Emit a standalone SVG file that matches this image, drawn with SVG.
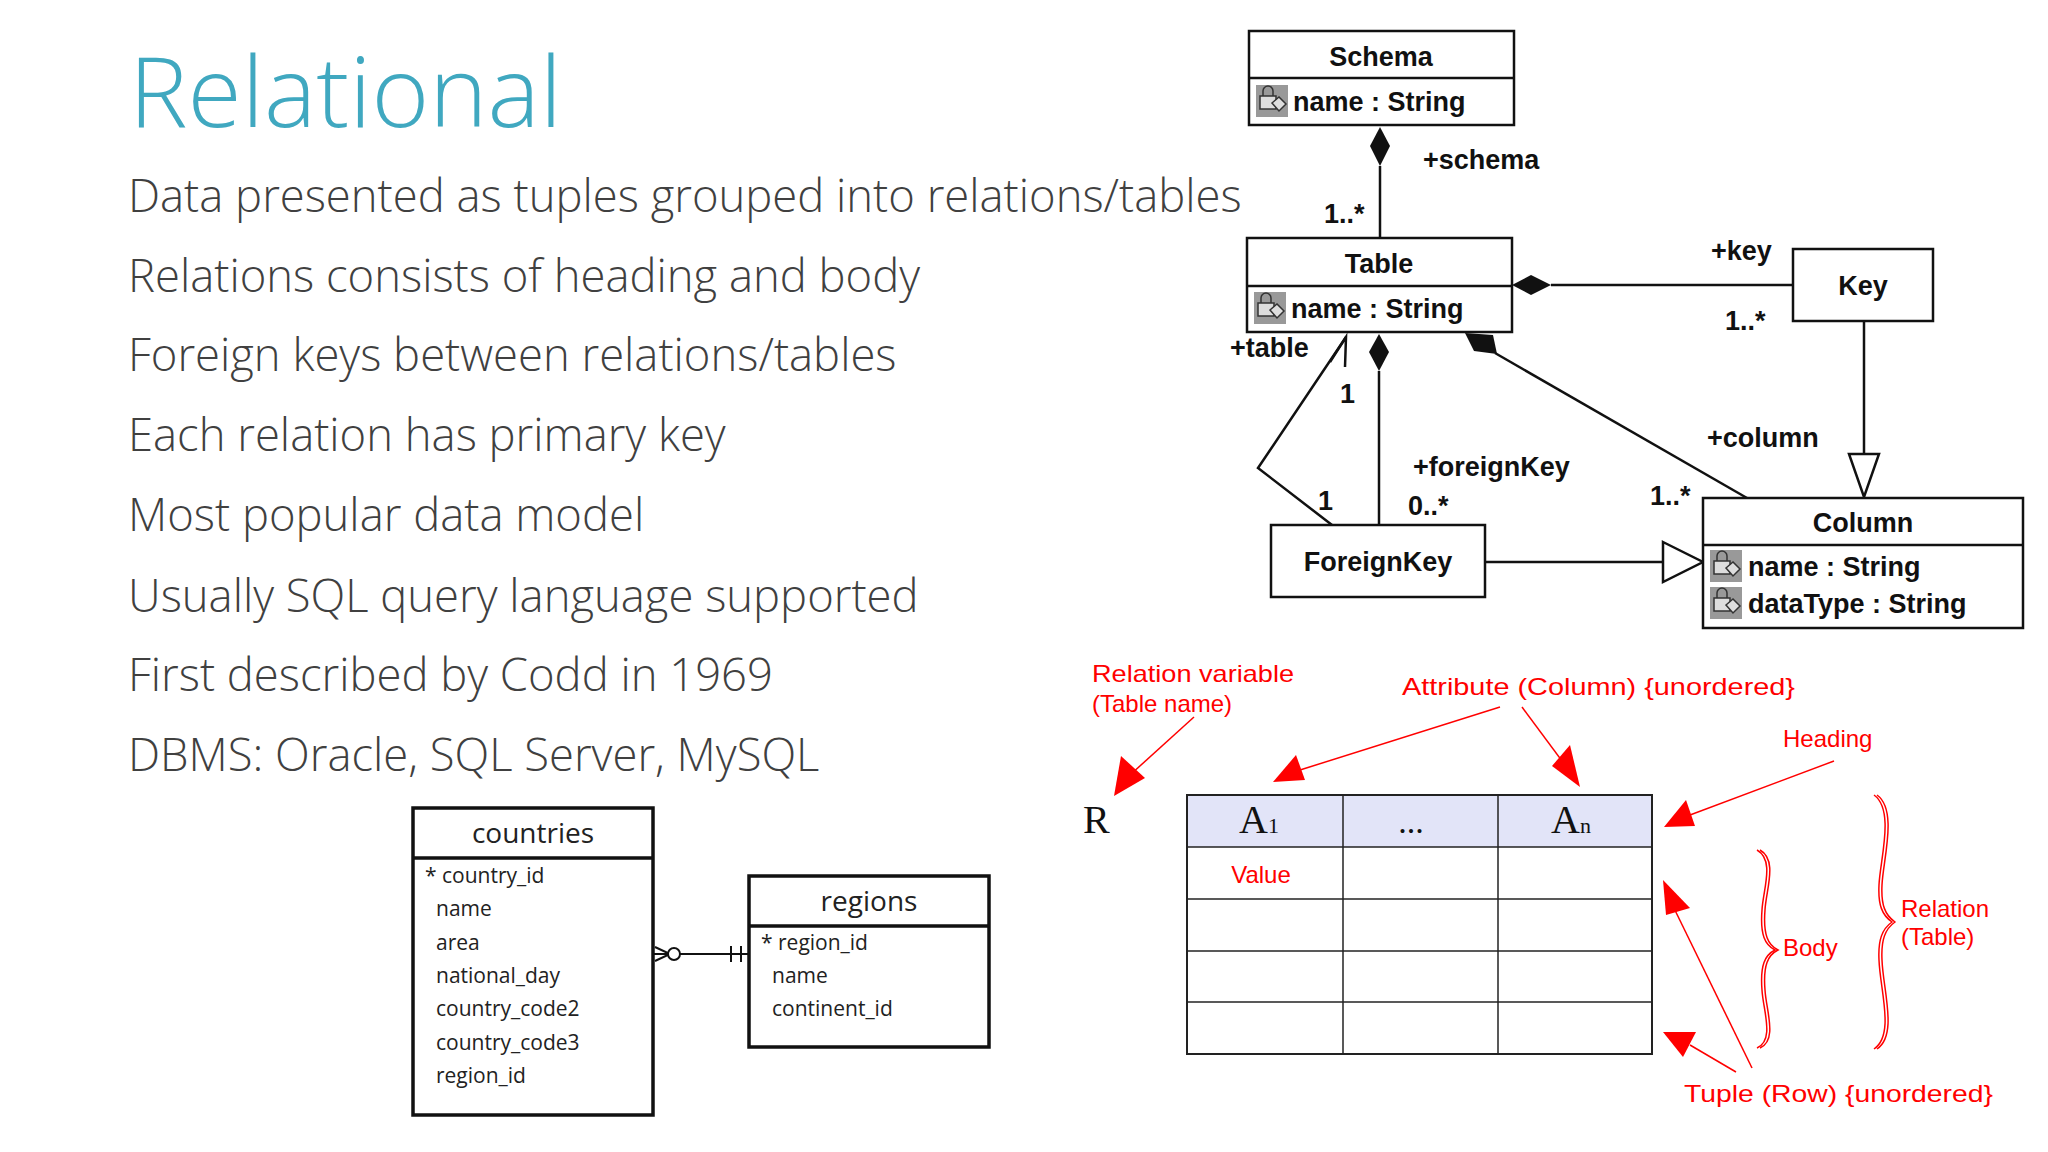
<svg xmlns="http://www.w3.org/2000/svg" width="2048" height="1152" viewBox="0 0 2048 1152">
<defs>
<style>
.t{font-family:"Open Sans","Liberation Sans",sans-serif;font-weight:300;fill:#404040;font-size:45.4px}
.u{font-family:"Liberation Sans",Arial,sans-serif;font-weight:bold;font-size:27px;fill:#111}
.bx{fill:#fff;stroke:#111;stroke-width:2.5}
.ln{stroke:#111;stroke-width:2.5;fill:none}
.r{font-family:"Liberation Sans",Arial,sans-serif;font-size:24px;fill:#f00}
.rl{stroke:#f00;stroke-width:1.5;fill:none}
.rh{fill:#f00}
.s{font-family:"Liberation Serif","Times New Roman",serif;fill:#111}
.e{font-family:"Open Sans","Liberation Sans",sans-serif;font-size:21px;fill:#222}
.eh{font-family:"Open Sans","Liberation Sans",sans-serif;font-size:28px;fill:#222}
.eb{fill:#fff;stroke:#111;stroke-width:3.5}
.tl{stroke:#222;stroke-width:1.5}
</style>
<g id="icon">
<rect x="0" y="0" width="32" height="32" fill="#999"/>
<rect x="4" y="11" width="16" height="13" fill="#ddd" stroke="#333" stroke-width="1.5"/>
<path d="M7 11 V6 a5 5 0 0 1 10 0 V11" fill="none" stroke="#333" stroke-width="1.5"/>
<path d="M16 18 l7 -6 l7 7 l-7 7 z" fill="#ddd" stroke="#333" stroke-width="1.5"/>
</g>
</defs>
<rect width="2048" height="1152" fill="#fff"/>

<text x="129" y="127" font-family="Open Sans, Liberation Sans, sans-serif" font-weight="300" font-size="98.6" fill="#40A8C0">Relational</text>
<g id="bullets">
<text class="t" x="128" y="212">Data presented as tuples grouped into relations/tables</text>
<text class="t" x="128" y="292">Relations consists of heading and body</text>
<text class="t" x="128" y="371">Foreign keys between relations/tables</text>
<text class="t" x="128" y="451">Each relation has primary key</text>
<text class="t" x="128" y="531">Most popular data model</text>
<text class="t" x="128" y="612">Usually SQL query language supported</text>
<text class="t" x="128" y="691">First described by Codd in 1969</text>
<text class="t" x="128" y="771">DBMS: Oracle, SQL Server, MySQL</text>
</g>

<g id="uml-connectors">
<line class="ln" x1="1380" y1="166" x2="1380" y2="238"/>
<path d="M1380 127 L1390 146 L1380 166 L1370 146 Z" fill="#111"/>
<line class="ln" x1="1551" y1="285" x2="1793" y2="285"/>
<path d="M1512 285 L1531 275 L1551 285 L1531 295 Z" fill="#111"/>
<line class="ln" x1="1864" y1="321" x2="1864" y2="454"/>
<path d="M1849 454 L1879 454 L1864 497 Z" fill="#fff" stroke="#111" stroke-width="2.5"/>
<line class="ln" x1="1379" y1="371" x2="1379" y2="525"/>
<path d="M1379 334 L1389 352 L1379 371 L1369 352 Z" fill="#111"/>
<line class="ln" x1="1747" y1="498" x2="1495" y2="353"/>
<path d="M1465 333 L1493 335 L1497 354 L1474 351 Z" fill="#111"/>
<polyline class="ln" points="1332,525 1258,468 1346,337"/>
<polyline class="ln" points="1330,362 1346,337 1345,367"/>
<line class="ln" x1="1485" y1="562" x2="1663" y2="562"/>
<path d="M1663 542 L1703 562 L1663 582 Z" fill="#fff" stroke="#111" stroke-width="2.5"/>
<text class="u" x="1423" y="169">+schema</text>
<text class="u" x="1324" y="223">1..*</text>
<text class="u" x="1711" y="260">+key</text>
<text class="u" x="1725" y="330">1..*</text>
<text class="u" x="1230" y="357">+table</text>
<text class="u" x="1340" y="403">1</text>
<text class="u" x="1318" y="510">1</text>
<text class="u" x="1413" y="476">+foreignKey</text>
<text class="u" x="1408" y="515">0..*</text>
<text class="u" x="1707" y="447">+column</text>
<text class="u" x="1650" y="505">1..*</text>
</g>
<g id="schema">
<rect class="bx" x="1249" y="31" width="265" height="94"/>
<line class="ln" x1="1249" y1="78" x2="1514" y2="78"/>
<text class="u" x="1381" y="66" text-anchor="middle">Schema</text>
<use href="#icon" x="1256" y="85"/>
<text class="u" x="1293" y="111">name : String</text>
</g>
<g id="table">
<rect class="bx" x="1247" y="238" width="265" height="94"/>
<line class="ln" x1="1247" y1="286" x2="1512" y2="286"/>
<text class="u" x="1379" y="273" text-anchor="middle">Table</text>
<use href="#icon" x="1254" y="292"/>
<text class="u" x="1291" y="318">name : String</text>
</g>
<g id="key">
<rect class="bx" x="1793" y="249" width="140" height="72"/>
<text class="u" x="1863" y="295" text-anchor="middle">Key</text>
</g>
<g id="foreignkey">
<rect class="bx" x="1271" y="525" width="214" height="72"/>
<text class="u" x="1378" y="571" text-anchor="middle">ForeignKey</text>
</g>
<g id="column">
<rect class="bx" x="1703" y="498" width="320" height="130"/>
<line class="ln" x1="1703" y1="545" x2="2023" y2="545"/>
<text class="u" x="1863" y="532" text-anchor="middle">Column</text>
<use href="#icon" x="1710" y="550"/>
<text class="u" x="1748" y="576">name : String</text>
<use href="#icon" x="1710" y="587"/>
<text class="u" x="1748" y="613">dataType : String</text>
</g>

<g id="relation-table">
<rect x="1187" y="795" width="465" height="52" fill="#E2E4F8"/>
<rect x="1187" y="795" width="465" height="259" fill="none" stroke="#222" stroke-width="2"/>
<line class="tl" x1="1187" y1="847" x2="1652" y2="847"/>
<line class="tl" x1="1187" y1="899" x2="1652" y2="899"/>
<line class="tl" x1="1187" y1="951" x2="1652" y2="951"/>
<line class="tl" x1="1187" y1="1002" x2="1652" y2="1002"/>
<line class="tl" x1="1343" y1="795" x2="1343" y2="1054"/>
<line class="tl" x1="1498" y1="795" x2="1498" y2="1054"/>
<text class="s" x="1239" y="833" font-size="40">A<tspan font-size="22">1</tspan></text>
<text class="s" x="1411" y="833" font-size="34" text-anchor="middle">...</text>
<text class="s" x="1551" y="833" font-size="40">A<tspan font-size="22">n</tspan></text>
<text class="s" x="1083" y="833" font-size="40">R</text>
<text class="r" x="1261" y="883" text-anchor="middle">Value</text>
</g>
<g id="relation-labels">
<text class="r" x="1092" y="682" textLength="202" lengthAdjust="spacingAndGlyphs">Relation variable</text>
<text class="r" x="1092" y="712">(Table name)</text>
<text class="r" x="1402" y="695" textLength="393" lengthAdjust="spacingAndGlyphs">Attribute (Column) {unordered}</text>
<text class="r" x="1783" y="747">Heading</text>
<text class="r" x="1783" y="956">Body</text>
<text class="r" x="1901" y="917">Relation</text>
<text class="r" x="1901" y="945">(Table)</text>
<text class="r" x="1684" y="1102" textLength="309" lengthAdjust="spacingAndGlyphs">Tuple (Row) {unordered}</text>
</g>
<g id="relation-arrows">
<line class="rl" x1="1194" y1="717" x2="1130" y2="775"/>
<path d="M1114 796 L1121 756 L1145 778 Z" class="rh"/>
<line class="rl" x1="1500" y1="707" x2="1300" y2="770"/>
<path d="M1273 782 L1296 755 L1305 780 Z" class="rh"/>
<line class="rl" x1="1522" y1="707" x2="1565" y2="765"/>
<path d="M1580 787 L1552 766 L1570 745 Z" class="rh"/>
<line class="rl" x1="1834" y1="761" x2="1690" y2="815"/>
<path d="M1664 827 L1686 800 L1695 826 Z" class="rh"/>
<line class="rl" x1="1752" y1="1068" x2="1670" y2="900"/>
<path d="M1663 880 L1690 908 L1666 915 Z" class="rh"/>
<line class="rl" x1="1736" y1="1072" x2="1690" y2="1045"/>
<path d="M1663 1032 L1696 1032 L1683 1057 Z" class="rh"/>
<path class="rl" d="M1757 850 C1775 860 1763 890 1762 910 C1760 935 1765 945 1775 950 C1765 955 1760 965 1762 990 C1763 1010 1775 1040 1757 1048"/>
<path class="rl" d="M1760 850 C1778 860 1766 890 1765 910 C1763 935 1768 945 1778 950 C1768 955 1763 965 1765 990 C1766 1010 1778 1040 1760 1048"/>
<path class="rl" d="M1874 795 C1895 810 1880 860 1879 885 C1878 905 1882 915 1892 922 C1882 929 1878 940 1879 960 C1880 990 1895 1035 1874 1049"/>
<path class="rl" d="M1877 795 C1898 810 1883 860 1882 885 C1881 905 1885 915 1895 922 C1885 929 1881 940 1882 960 C1883 990 1898 1035 1877 1049"/>
</g>

<g id="er-connector">
<line stroke="#111" stroke-width="2" x1="653" y1="954" x2="749" y2="954"/>
<polyline points="655,947 670,954 655,961" fill="none" stroke="#111" stroke-width="2"/>
<circle cx="674" cy="954" r="6" fill="#fff" stroke="#111" stroke-width="2"/>
<line stroke="#111" stroke-width="2" x1="731" y1="946" x2="731" y2="962"/>
<line stroke="#111" stroke-width="2" x1="741" y1="946" x2="741" y2="962"/>
</g>
<g id="countries">
<rect class="eb" x="413" y="808" width="240" height="307"/>
<line stroke="#111" stroke-width="3.5" x1="413" y1="858" x2="653" y2="858"/>
<text class="eh" x="533" y="843" text-anchor="middle">countries</text>
<text class="e" x="425" y="883">* country_id</text>
<text class="e" x="436" y="916">name</text>
<text class="e" x="436" y="950">area</text>
<text class="e" x="436" y="983">national_day</text>
<text class="e" x="436" y="1016">country_code2</text>
<text class="e" x="436" y="1050">country_code3</text>
<text class="e" x="436" y="1083">region_id</text>
</g>
<g id="regions">
<rect class="eb" x="749" y="876" width="240" height="171"/>
<line stroke="#111" stroke-width="3.5" x1="749" y1="926" x2="989" y2="926"/>
<text class="eh" x="869" y="911" text-anchor="middle">regions</text>
<text class="e" x="761" y="950">* region_id</text>
<text class="e" x="772" y="983">name</text>
<text class="e" x="772" y="1016">continent_id</text>
</g>
</svg>
